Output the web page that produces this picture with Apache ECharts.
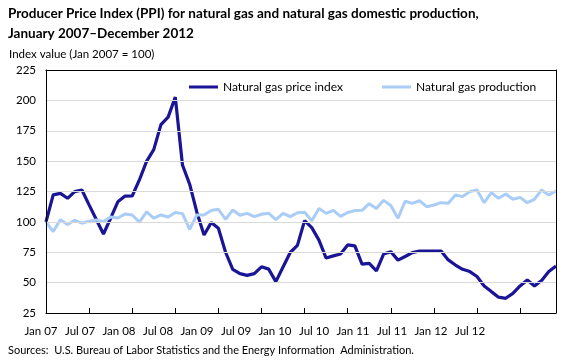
<!DOCTYPE html>
<html><head><meta charset="utf-8">
<script src="https://cdn.jsdelivr.net/npm/echarts@6/dist/echarts.min.js"></script>
<style>html,body{margin:0;padding:0;background:#fff}#c{width:580px;height:360px}</style>
</head><body><div id="c"></div>
<script>
const monthNames = ['Jan','Feb','Mar','Apr','May','Jun','Jul','Aug','Sep','Oct','Nov','Dec'];
const years = ['07','08','09','10','11','12'];
const categories = [];
years.forEach(y => monthNames.forEach(m => categories.push(m + ' ' + y)));
const tickLabels = ['Jan 07','Jul 07','Jan 08','Jul 08','Jan 09','Jul 09','Jan 10','Jul 10','Jan 11','Jul 11','Jan 12','Jul 12'];

const priceIndex = [
  100, 122.2, 123.5, 119.4, 124.9, 126.2, 114, 102, 90, 103, 116.5, 121.2,
  121.3, 134.5, 149.8, 159.5, 180, 186.2, 202.7, 146.8, 131, 108, 89.2, 99.4,
  94.7, 75, 61, 57.4, 56, 57.4, 63, 61.1, 50.8, 62.8, 74.8, 80.7,
  101, 95.3, 85, 70.2, 72, 73.5, 81, 80.2, 65.2, 65.9, 59.7, 73.5,
  75.5, 68.5, 71.5, 74.7, 76, 76, 76, 76, 68.7, 64.5, 61, 59.1,
  55, 47.3, 42.6, 38, 37.1, 41.2, 47.3, 52.2, 47.3, 51.7, 59.1, 63.7
];
const production = [
  100, 92, 101.8, 97.9, 101.3, 98.9, 100.6, 101.6, 100.2, 104, 103.2, 106.5,
  105.7, 99.8, 108.2, 103, 105.7, 104, 107.7, 106.8, 93.9, 105.7, 105.7, 109.3,
  110.4, 102, 109.8, 105.4, 107, 104.3, 106.3, 107.1, 101.8, 107, 104.3, 107.5,
  107.9, 100.9, 111.1, 107, 109.5, 104.5, 107.7, 109.3, 109.5, 115, 111.1, 117.7,
  113.5, 103, 117, 115.2, 117.4, 112.5, 113.9, 115.8, 115.3, 122.2, 120.8, 124.9,
  126.3, 115.8, 124.1, 119.4, 123, 118.6, 120.2, 115.8, 118.6, 126.3, 122.2, 125.4
];
const seriesNames = ['Natural gas price index', 'Natural gas production'];
const colors = ['#1a1596', '#a9cdf7'];

const FONT = 'Lato';
const chart = echarts.init(document.getElementById('c'), null, {renderer: 'canvas'});
chart.setOption({
  animation: false,
  textStyle: {fontFamily: FONT},
  title: [
    {text: 'Producer Price Index (PPI) for natural gas and natural gas domestic production,\nJanuary 2007\u2013December 2012',
     left: 8, top: 4, padding: 0, textStyle: {fontFamily: FONT, fontSize: 13.5, fontWeight: 'bold', color: '#000', lineHeight: 20}},
    {text: 'Index value (Jan 2007 = 100)', left: 9, top: 48, padding: 0,
     textStyle: {fontFamily: FONT, fontSize: 11.5, fontWeight: 'normal', color: '#000'}},
    {text: 'Sources:  U.S. Bureau of Labor Statistics and the Energy Information  Administration.', left: 8, top: 345, padding: 0,
     textStyle: {fontFamily: FONT, fontSize: 11, fontWeight: 'normal', color: '#000'}}
  ],
  legend: [
    {left: 189, top: 81, padding: 0, data: [seriesNames[0]], icon: 'rect', itemWidth: 29, itemHeight: 3,
     textStyle: {fontFamily: FONT, fontSize: 12, color: '#000'}},
    {left: 382, top: 81, padding: 0, data: [seriesNames[1]], icon: 'rect', itemWidth: 29, itemHeight: 3,
     textStyle: {fontFamily: FONT, fontSize: 12, color: '#000'}}
  ],
  grid: [
    {left: 46, right: 24, top: 70, bottom: 47},
    {left: 41, width: 429, top: 70, bottom: 47}
  ],
  xAxis: [
    {type: 'category', gridIndex: 0, data: categories, boundaryGap: false, z: 5,
     axisLine: {lineStyle: {color: '#000', width: 1}},
     axisTick: {inside: true, length: 5, interval: (i) => i % 6 === 0, lineStyle: {color: '#000'}},
     axisLabel: {show: false}, splitLine: {show: false}},
    {type: 'category', gridIndex: 0, position: 'top', data: categories, boundaryGap: false, z: 5,
     axisLine: {lineStyle: {color: '#000', width: 1}}, axisTick: {show: false}, axisLabel: {show: false}},
    {type: 'category', gridIndex: 1, data: tickLabels, boundaryGap: false,
     axisLine: {show: false}, axisTick: {show: false}, splitLine: {show: false},
     axisLabel: {interval: 0, margin: 12, fontFamily: FONT, fontSize: 11.5, color: '#000'}}
  ],
  yAxis: [
    {type: 'value', gridIndex: 0, min: 25, max: 225, interval: 25, z: 5,
     axisLine: {show: true, lineStyle: {color: '#000'}}, axisTick: {show: false},
     axisLabel: {margin: 10, fontFamily: FONT, fontSize: 11.5, color: '#000'},
     splitLine: {lineStyle: {color: '#d9d9d9', width: 1}}},
    {type: 'value', gridIndex: 0, position: 'right', min: 25, max: 225, interval: 25, z: 5,
     axisLine: {show: true, lineStyle: {color: '#000'}}, axisTick: {show: false},
     axisLabel: {show: false}, splitLine: {show: false}},
    {type: 'value', gridIndex: 1, show: false, min: 0, max: 1}
  ],
  series: [
    {name: seriesNames[0], type: 'line', xAxisIndex: 0, yAxisIndex: 0, data: priceIndex,
     symbol: 'none', lineStyle: {color: colors[0], width: 3.2}, itemStyle: {color: colors[0]}},
    {name: seriesNames[1], type: 'line', xAxisIndex: 0, yAxisIndex: 0, data: production,
     symbol: 'none', lineStyle: {color: colors[1], width: 3}, itemStyle: {color: colors[1]}}
  ]
});
</script></body></html>
